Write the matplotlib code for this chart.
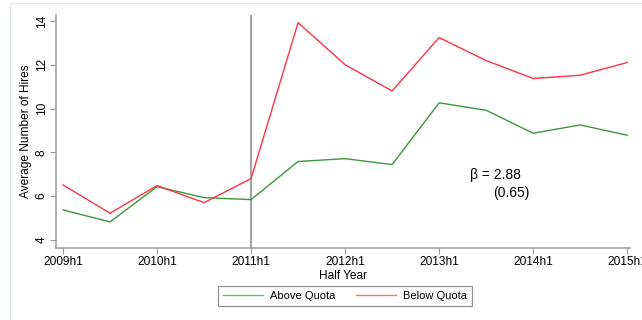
import matplotlib
matplotlib.use("Agg")
import matplotlib.pyplot as plt
from matplotlib.lines import Line2D
from matplotlib.patches import Rectangle

plt.rcParams['font.family'] = ['Liberation Sans', 'DejaVu Sans']

periods = ["2009h1", "2009h2", "2010h1", "2010h2", "2011h1", "2011h2", "2012h1",
           "2012h2", "2013h1", "2013h2", "2014h1", "2014h2", "2015h1"]
above_quota = [5.37, 4.82, 6.43, 5.93, 5.84, 7.58, 7.71, 7.44, 10.26, 9.92, 8.87, 9.25, 8.78]
below_quota = [6.51, 5.22, 6.48, 5.70, 6.80, 13.92, 12.0, 10.8, 13.24, 12.19, 11.37, 11.52, 12.10]
tick_labels = ["2009h1", "2010h1", "2011h1", "2012h1", "2013h1", "2014h1", "2015h1"]
y_ticks = [4, 6, 8, 10, 12, 14]
cutoff = "2011h1"

green = "#3a9a3a"
red = "#ff3344"
axis_gray = "#9a9a9a"

fig = plt.figure(figsize=(6.42, 3.2), dpi=100)
fig.patch.set_facecolor("white")
# faint outer frame
fig.add_artist(Rectangle((10/642, -0.05), 1.2, 1 - 3/320 + 0.05, transform=fig.transFigure,
                         fill=False, edgecolor="#e3ecee", linewidth=0.8))

ax = fig.add_axes([56/642, 1 - 248/320, 574/642, 233/320])
x = list(range(len(periods)))
ax.plot(x, above_quota, color=green, lw=1.0, label="Above Quota")
ax.plot(x, below_quota, color=red, lw=1.0, label="Below Quota")
ax.axvline(periods.index(cutoff), color="#888888", lw=1.1, zorder=0)

ax.set_xlim(-0.149, 12.06)
ax.set_ylim(3.63, 14.27)
ax.set_xticks([periods.index(t) for t in tick_labels])
ax.set_xticklabels(tick_labels, fontsize=8.6)
ax.set_yticks(y_ticks)
ax.set_yticklabels([str(v) for v in y_ticks], fontsize=8.6, rotation=90, va="center")

for s in ["top", "right"]:
    ax.spines[s].set_visible(False)
for s in ["left", "bottom"]:
    ax.spines[s].set_color(axis_gray)
    ax.spines[s].set_linewidth(1.1)
ax.tick_params(axis="both", colors=axis_gray, labelcolor="black", length=4, width=0.8, pad=2)

ax.set_xlabel("Half Year", fontsize=8.6, labelpad=1)
ax.set_ylabel("Average Number of Hires", fontsize=8.6, labelpad=3)

ax.text(0.7216, 0.313, "β = 2.88", transform=ax.transAxes, fontsize=10, ha="left", va="center")
ax.text(0.7617, 0.236, "(0.65)", transform=ax.transAxes, fontsize=10, ha="left", va="center")

leg = fig.legend(handles=[Line2D([], [], color=green, lw=1.0, alpha=0.7, label="Above Quota"),
                          Line2D([], [], color=red, lw=1.0, alpha=0.7, label="Below Quota")],
                 loc="center", bbox_to_anchor=(345/642, 1 - 296/320), ncol=2, fontsize=8,
                 frameon=True, fancybox=False, edgecolor="#777777", handlelength=3.6,
                 columnspacing=1.9, borderpad=0.45, borderaxespad=0, handletextpad=0.6)
leg.get_frame().set_linewidth(0.9)

fig.savefig("out.png", dpi=100)
